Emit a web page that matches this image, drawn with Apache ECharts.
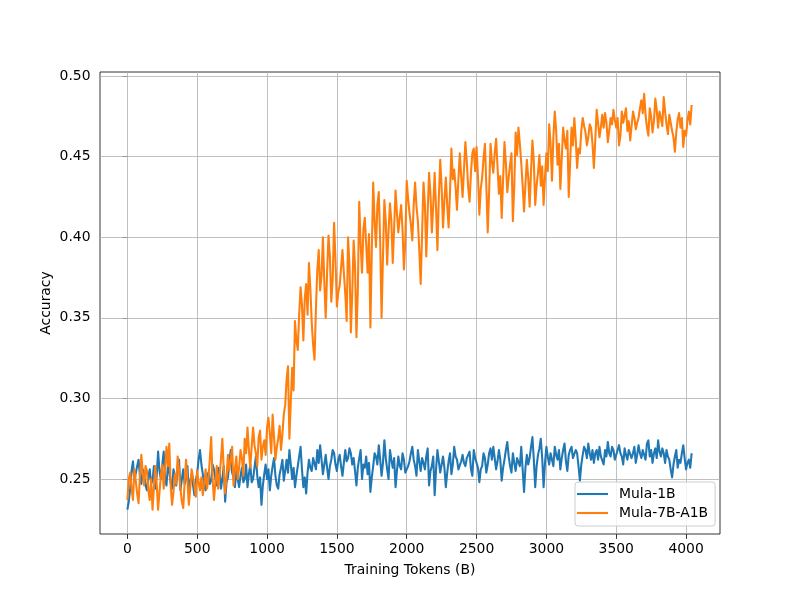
<!DOCTYPE html>
<html>
<head>
<meta charset="utf-8">
<script src="https://cdn.jsdelivr.net/npm/echarts@6/dist/echarts.min.js"></script>
<style>html,body{margin:0;padding:0;background:#fff}#chart{width:800px;height:600px}</style>
</head>
<body>
<div id="chart"></div>
<script>
// Sampling grid (training tokens, B)
const tokenStart = 0;
const tokenStep = 10;

const seriesNames = ['Mula-1B', 'Mula-7B-A1B'];

const mula1B = [
  .231,.236,.244,.255,.261,.249,.250,.258,.262,.252,
  .247,.256,.253,.246,.243,.251,.256,.247,.249,.258,
  .244,.252,.267,.255,.250,.259,.267,.251,.246,.258,
  .255,.248,.244,.256,.252,.246,.257,.262,.243,.250,
  .256,.247,.250,.258,.242,.249,.253,.246,.240,.249,
  .254,.262,.268,.259,.253,.246,.243,.251,.254,.247,
  .249,.259,.256,.250,.246,.257,.255,.244,.250,.258,
  .236,.248,.251,.260,.268,.254,.251,.245,.255,.250,
  .245,.252,.257,.248,.250,.259,.245,.253,.259,.248,
  .250,.257,.264,.252,.245,.251,.234,.246,.253,.259,
  .250,.256,.243,.252,.258,.263,.252,.246,.244,.253,
  .257,.262,.249,.255,.262,.254,.268,.259,.250,.257,
  .245,.252,.258,.264,.270,.256,.245,.251,.241,.254,
  .262,.257,.255,.263,.262,.256,.268,.260,.271,.262,
  .253,.259,.265,.257,.250,.258,.262,.268,.266,.259,
  .255,.262,.265,.258,.252,.260,.268,.261,.263,.269,
  .266,.259,.263,.255,.246,.257,.263,.268,.250,.259,
  .257,.264,.253,.260,.242,.251,.258,.266,.264,.259,
  .271,.262,.252,.260,.274,.263,.256,.250,.268,.262,
  .257,.263,.245,.255,.264,.258,.256,.266,.262,.254,
  .253,.258,.261,.266,.270,.262,.258,.252,.268,.261,
  .255,.263,.260,.256,.264,.269,.246,.255,.258,.264,
  .240,.256,.268,.261,.254,.259,.264,.257,.245,.254,
  .261,.266,.253,.259,.270,.264,.262,.256,.255,.261,
  .265,.260,.258,.263,.262,.267,.256,.252,.268,.263,
  .262,.257,.248,.256,.258,.266,.263,.254,.259,.266,
  .269,.262,.270,.263,.256,.261,.268,.262,.249,.257,
  .262,.268,.273,.264,.258,.254,.266,.260,.255,.263,
  .264,.258,.270,.256,.242,.257,.265,.259,.263,.270,
  .276,.262,.245,.258,.265,.269,.275,.263,.245,.260,
  .270,.264,.259,.266,.266,.258,.270,.265,.262,.268,
  .256,.263,.268,.272,.261,.255,.265,.268,.270,.263,
  .262,.268,.266,.258,.249,.259,.265,.270,.268,.263,
  .272,.266,.262,.268,.260,.266,.268,.262,.270,.264,
  .264,.259,.268,.264,.273,.266,.264,.270,.268,.262,
  .262,.268,.271,.266,.264,.259,.269,.265,.262,.268,
  .268,.263,.266,.270,.260,.265,.271,.266,.263,.268,
  .268,.262,.272,.274,.264,.268,.260,.266,.269,.263,
  .274,.267,.264,.269,.266,.260,.268,.264,.262,.256,
  .251,.259,.264,.268,.257,.262,.260,.266,.271,.263,
  .256,.260,.262,.257,.266
];

const mula7BA1B = [
  .237,.250,.254,.244,.237,.256,.249,.241,.235,.252,
  .265,.254,.246,.258,.255,.243,.237,.250,.231,.245,
  .258,.247,.231,.242,.252,.259,.244,.256,.270,.258,
  .272,.246,.234,.242,.253,.247,.264,.255,.244,.236,
  .232,.248,.262,.249,.234,.244,.256,.251,.246,.239,
  .255,.248,.243,.251,.240,.247,.256,.244,.250,.262,
  .276,.250,.237,.248,.258,.244,.252,.262,.275,.256,
  .241,.252,.265,.255,.262,.270,.246,.256,.264,.250,
  .257,.268,.263,.252,.275,.266,.282,.268,.257,.270,
  .282,.271,.266,.258,.276,.280,.262,.270,.274,.265,
  .282,.288,.278,.266,.290,.276,.262,.270,.275,.283,
  .268,.278,.290,.296,.312,.320,.275,.298,.319,.305,
  .348,.336,.330,.352,.369,.358,.336,.362,.371,.352,
  .384,.368,.347,.333,.324,.356,.380,.392,.367,.376,
  .400,.372,.350,.378,.401,.388,.360,.374,.409,.386,
  .357,.366,.370,.381,.392,.378,.365,.348,.400,.383,
  .341,.365,.398,.382,.338,.367,.422,.396,.378,.405,
  .412,.395,.378,.402,.344,.392,.434,.410,.394,.420,
  .428,.397,.350,.388,.423,.410,.383,.404,.421,.410,
  .384,.406,.429,.415,.403,.412,.420,.405,.380,.398,
  .435,.424,.415,.408,.398,.420,.434,.419,.410,.392,
  .371,.402,.434,.421,.388,.415,.440,.427,.403,.420,
  .440,.418,.392,.425,.448,.431,.406,.423,.437,.420,
  .406,.428,.455,.436,.442,.431,.417,.436,.452,.438,
  .425,.442,.459,.447,.431,.422,.440,.452,.455,.441,
  .456,.438,.414,.430,.437,.449,.458,.432,.403,.428,
  .458,.447,.440,.452,.461,.444,.427,.438,.412,.436,
  .459,.446,.428,.437,.445,.452,.410,.432,.465,.451,
  .468,.458,.446,.432,.416,.433,.448,.437,.419,.441,
  .460,.447,.420,.432,.440,.451,.432,.444,.420,.437,
  .452,.441,.470,.458,.435,.462,.478,.466,.445,.458,
  .430,.449,.468,.460,.455,.466,.425,.446,.468,.457,
  .474,.461,.443,.455,.452,.466,.474,.469,.465,.457,
  .462,.470,.468,.458,.443,.460,.479,.471,.462,.468,
  .476,.468,.477,.471,.459,.466,.474,.470,.479,.473,
  .468,.474,.457,.463,.478,.471,.472,.480,.466,.472,
  .460,.469,.478,.474,.467,.471,.474,.480,.485,.477,
  .489,.476,.468,.463,.480,.475,.465,.472,.486,.479,
  .468,.478,.474,.469,.487,.478,.470,.464,.476,.471,
  .466,.462,.453,.465,.473,.477,.468,.474,.456,.466,
  .463,.472,.478,.470,.482
];

const xTicks = [0, 500, 1000, 1500, 2000, 2500, 3000, 3500, 4000];
const yTicks = [0.25, 0.30, 0.35, 0.40, 0.45, 0.50];

const FONT = 'DejaVu Sans';
const FS = 13.9;

function pairs(values) {
  return values.map((v, i) => [tokenStart + i * tokenStep, v]);
}

const chart = echarts.init(document.getElementById('chart'), null, {renderer: 'canvas'});

const option = {
  animation: false,
  backgroundColor: '#ffffff',
  grid: {
    left: 100, right: 80, top: 72, bottom: 66,
    show: true, borderColor: '#000000', borderWidth: 0.8,
    backgroundColor: 'transparent',
    containLabel: false, outerBoundsMode: 'none'
  },
  xAxis: {
    type: 'value', min: -196, max: 4243,
    name: 'Training Tokens (B)', nameLocation: 'middle', nameGap: 29,
    nameMoveOverlap: false,
    nameTextStyle: {fontFamily: FONT, fontSize: FS, color: '#000'},
    axisLine: {show: false},
    axisTick: {show: true, customValues: xTicks, length: 4.86, inside: false,
               lineStyle: {color: '#000', width: 0.8}},
    axisLabel: {customValues: xTicks, margin: 8, fontFamily: FONT, fontSize: FS, color: '#000',
                formatter: v => String(v)},
    splitLine: {show: false}
  },
  yAxis: {
    type: 'value', min: 0.2159, max: 0.5025,
    name: 'Accuracy', nameLocation: 'middle', nameGap: 47, nameRotate: 90,
    nameMoveOverlap: false,
    nameTextStyle: {fontFamily: FONT, fontSize: FS, color: '#000'},
    axisLine: {show: false},
    axisTick: {show: true, customValues: yTicks, length: 4.86, inside: false,
               lineStyle: {color: '#000', width: 0.8}},
    axisLabel: {customValues: yTicks, margin: 9.5, fontFamily: FONT, fontSize: FS, color: '#000',
                formatter: v => Number(v).toFixed(2)},
    splitLine: {show: false}
  },
  legend: {
    orient: 'vertical', left: 575, top: 482,
    icon: 'rect',
    itemWidth: 31, itemHeight: 2.1, itemGap: 5,
    padding: [5, 7, 6, 2],
    backgroundColor: 'rgba(255,255,255,0.8)',
    borderColor: '#cccccc', borderWidth: 1, borderRadius: 3,
    textStyle: {fontFamily: FONT, fontSize: FS, color: '#000', padding: [0, 0, 0, 6]},
    data: seriesNames
  },
  series: [
    {
      name: seriesNames[0], type: 'line', data: pairs(mula1B),
      symbol: 'none', showSymbol: false, smooth: false, z: 2,
      color: '#1f77b4',
      lineStyle: {color: '#1f77b4', width: 2.08, join: 'round'},
      emphasis: {disabled: true},
      markLine: {
        silent: true, z: 1, animation: false,
        symbol: ['none', 'none'],
        label: {show: false},
        emphasis: {disabled: true},
        lineStyle: {color: '#b0b0b0', width: 0.8, type: 'solid'},
        data: [
          ...xTicks.map(v => ({xAxis: v})),
          ...yTicks.map(v => ({yAxis: v}))
        ]
      }
    },
    {
      name: seriesNames[1], type: 'line', data: pairs(mula7BA1B),
      symbol: 'none', showSymbol: false, smooth: false, z: 3,
      color: '#ff7f0e',
      lineStyle: {color: '#ff7f0e', width: 2.08, join: 'round'},
      emphasis: {disabled: true}
    }
  ]
};

chart.setOption(option);
</script>
</body>
</html>
